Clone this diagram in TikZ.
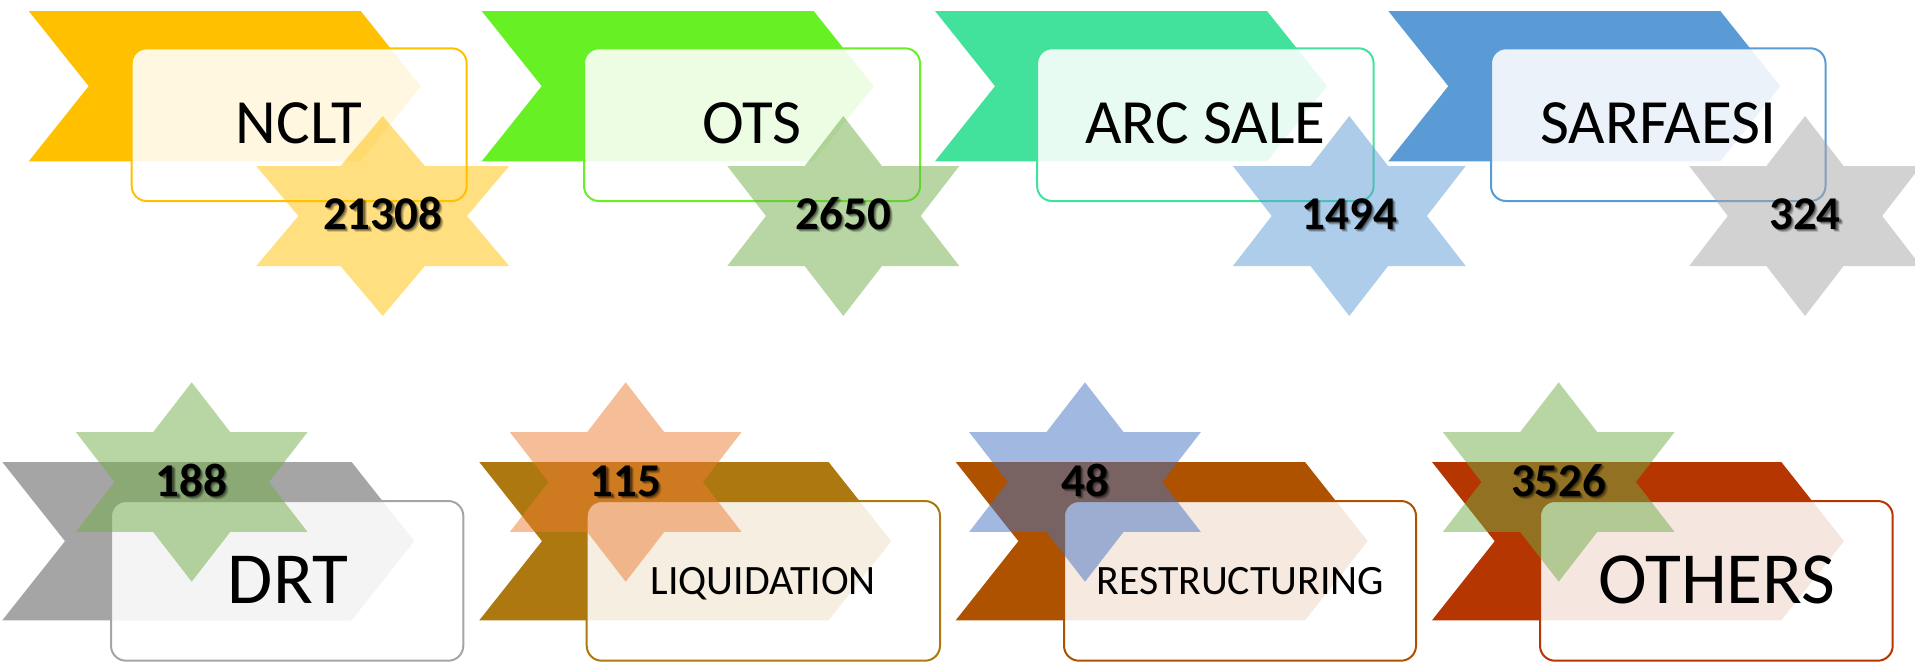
\documentclass[tikz,border=0pt]{standalone}
\usepackage{fontspec}
\setmainfont{Carlito}

% ribbon colours
\definecolor{cGold}{HTML}{FFC000}
\definecolor{cLime}{HTML}{67F024}
\definecolor{cMint}{HTML}{42E29C}
\definecolor{cSky}{HTML}{5B9BD5}
\definecolor{cGrey}{HTML}{A5A5A5}
\definecolor{cOchre}{HTML}{AD7810}
\definecolor{cRust}{HTML}{AF5200}
\definecolor{cBrick}{HTML}{B53600}
% star colours
\definecolor{sGreen}{HTML}{70AD47}
\definecolor{sOrange}{HTML}{ED7D31}
\definecolor{sBlue}{HTML}{4472C4}

% chevron ribbon: left x, top y, width, height, arrow depth, colour
\newcommand\ribbon[6]{%
  \fill[#6] (#1,#2) -- ++(#3-#5,0) -- ++(#5,#4/2) -- ++(-#5,#4/2)
    -- ++(#5-#3,0) -- ++(#5,-#4/2) -- cycle;}

% six-pointed star: centre x, centre y, half width, half height, colour
\newcommand\hexstar[5]{%
  \fill[#5, fill opacity=0.5]
    (#1,#2-#4) -- (#1+#3/3,#2-#4/2) -- (#1+#3,#2-#4/2) -- (#1+2*#3/3,#2)
    -- (#1+#3,#2+#4/2) -- (#1+#3/3,#2+#4/2) -- (#1,#2+#4)
    -- (#1-#3/3,#2+#4/2) -- (#1-#3,#2+#4/2) -- (#1-2*#3/3,#2)
    -- (#1-#3,#2-#4/2) -- (#1-#3/3,#2-#4/2) -- cycle;}

% bold count with a soft drop shadow: name, x, baseline y, text
\newcommand\valuetag[4]{%
  \node[numtxt, opacity=0.15] at (#2+3.2,#3+3.2) {#4};
  \node[numtxt, opacity=0.25] at (#2+2.2,#3+2.2) {#4};
  \node[numtxt, opacity=0.30] at (#2+1.2,#3+1.2) {#4};
  \node[numtxt] (#1) at (#2,#3) {#4};}

\begin{document}
\begin{tikzpicture}[x=1pt,y=-1pt,
  rectbox/.style={rounded corners=15pt, line width=2pt, fill=white, fill opacity=0.88},
  lab/.style={anchor=base, inner sep=0pt, text=black},
  numtxt/.style={anchor=base, inner sep=0pt, text=black,
    font=\fontsize{47}{47}\bfseries\selectfont},
  bigtxt/.style={lab, font=\fontsize{63}{63}\selectfont},
  hugetxt/.style={lab, font=\fontsize{73.5}{73.5}\selectfont},
  smalltxt/.style={lab, font=\fontsize{41.8}{41.8}\selectfont},
]
\useasboundingbox (0,0) rectangle (1915,662);

% ---------------- upper row ----------------
% NCLT
\ribbon{28.7}{11}{392}{150.3}{60}{cGold}
\draw[rectbox, draw=cGold] (131.7,48.3) rectangle (466.7,201);
\hexstar{382.7}{216}{126.5}{100}{cGold}
\node[bigtxt] (lab-nclt) at (299.2,143.3) {NCLT};
\valuetag{num-nclt}{382.7}{229.5}{21308}

% OTS
\ribbon{481.7}{11}{392}{150.3}{60}{cLime}
\draw[rectbox, draw=cLime] (584,48.3) rectangle (920,201);
\hexstar{843.3}{216}{116}{100}{sGreen}
\node[bigtxt] (lab-ots) at (752,143.3) {OTS};
\valuetag{num-ots}{843.3}{229.5}{2650}

% ARC SALE
\ribbon{935}{11}{392}{150.3}{60}{cMint}
\draw[rectbox, draw=cMint] (1037.1,48.3) rectangle (1373.6,201);
\hexstar{1349.3}{216}{116.4}{100}{cSky}
\node[bigtxt] (lab-arc) at (1205.4,143.3) {ARC SALE};
\valuetag{num-arc}{1349.3}{229.5}{1494}

% SARFAESI
\ribbon{1388.3}{11}{392}{150.3}{60}{cSky}
\draw[rectbox, draw=cSky] (1491,48.3) rectangle (1825.5,201);
\hexstar{1805}{216}{115.8}{100}{cGrey}
\node[bigtxt] (lab-sarf) at (1658.2,143.3) {SARFAESI};
\valuetag{num-sarf}{1805}{229.5}{324}

% ---------------- lower row ----------------
% DRT
\ribbon{2.3}{462}{412}{158.3}{62.7}{cGrey}
\draw[rectbox, draw=cGrey] (111,501) rectangle (463.3,660.7);
\hexstar{191.7}{482}{115.8}{99.7}{sGreen}
\node[hugetxt] (lab-drt) at (288,603.3) {DRT};
\valuetag{num-drt}{191.7}{496}{188}

% LIQUIDATION
\ribbon{479.3}{462}{412}{158.3}{62.7}{cOchre}
\draw[rectbox, draw=cOchre] (586.7,501) rectangle (940,660.7);
\hexstar{625.7}{482}{115.8}{99.7}{sOrange}
\node[smalltxt] (lab-liq) at (763.3,594) {LIQUIDATION};
\valuetag{num-liq}{625.7}{496}{115}

% RESTRUCTURING
\ribbon{955.7}{462}{412}{158.3}{62.7}{cRust}
\draw[rectbox, draw=cRust] (1064,501) rectangle (1416,660.7);
\hexstar{1085}{482}{115.8}{99.7}{sBlue}
\node[smalltxt] (lab-rest) at (1240.3,594) {RESTRUCTURING};
\valuetag{num-rest}{1085}{496}{48}

% OTHERS
\ribbon{1432}{462}{412}{158.3}{62.7}{cBrick}
\draw[rectbox, draw=cBrick] (1540,501) rectangle (1892.7,660.7);
\hexstar{1558.7}{482}{115.8}{99.7}{sGreen}
\node[hugetxt] (lab-oth) at (1717,603) {OTHERS};
\valuetag{num-oth}{1558.7}{496}{3526}
\end{tikzpicture}
\end{document}
